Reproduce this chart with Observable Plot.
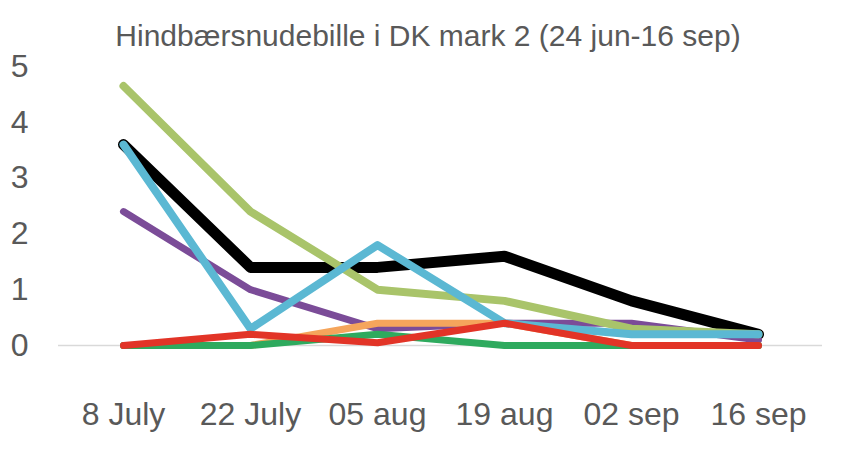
<!DOCTYPE html>
<html>
<head>
<meta charset="utf-8">
<script src="https://cdn.jsdelivr.net/npm/d3@7"></script>
<script src="https://cdn.jsdelivr.net/npm/@observablehq/plot@0.6"></script>
<style>
  html, body { margin: 0; padding: 0; background: #fff; }
  #wrap { position: relative; width: 858px; height: 450px; font-family: "Liberation Sans", Arial, sans-serif; }
  #title { position: absolute; left: 0; top: 21px; width: 856px; text-align: center; font-size: 30px; line-height: 1; color: #595959; white-space: nowrap; }
  #chart { position: absolute; left: 0; top: 0; }
</style>
</head>
<body>
<div id="wrap">
  <div id="chart"></div>
  <div id="title">Hindbærsnudebille i DK mark 2 (24 jun-16 sep)</div>
</div>
<script>
const dates = ["8 July", "22 July", "05 aug", "19 aug", "02 sep", "16 sep"];
const yTicks = [0, 1, 2, 3, 4, 5];

// series values, in drawing order
const seriesNames = ["black", "purple", "lightgreen", "orange", "darkgreen", "cyan", "red"];
const seriesColors = ["#000000", "#7B4C98", "#A9C46A", "#F5A55C", "#2EAA5E", "#5BB8D3", "#E23427"];
const seriesWidths = [11, 7, 8, 7, 7, 8, 7];
const blackValues = [3.6, 1.4, 1.4, 1.6, 0.8, 0.2];
const purpleValues = [2.4, 1.0, 0.3, 0.4, 0.4, 0.1];
const lightgreenValues = [4.65, 2.4, 1.0, 0.8, 0.3, 0.2];
const orangeValues = [0, 0, 0.4, 0.4, 0, 0];
const darkgreenValues = [0, 0, 0.2, 0, 0, 0];
const cyanValues = [3.6, 0.3, 1.8, 0.4, 0.2, 0.2];
const redValues = [0, 0.2, 0.05, 0.4, 0, 0];

const allValues = [blackValues, purpleValues, lightgreenValues, orangeValues, darkgreenValues, cyanValues, redValues];

const lineMarks = allValues.map((vals, i) =>
  Plot.line(vals.map((v, j) => ({date: dates[j], value: v})), {
    x: "date", y: "value",
    stroke: seriesColors[i], strokeWidth: seriesWidths[i],
    strokeLinecap: "round", strokeLinejoin: "round"
  })
);

const chart = Plot.plot({
  width: 858,
  height: 450,
  marginTop: 66,
  marginBottom: 105,
  marginLeft: 58,
  marginRight: 36,
  style: {fontFamily: '"Liberation Sans", Arial, sans-serif', background: "#fff", overflow: "visible"},
  x: {type: "point", domain: dates, padding: 0.5, axis: null},
  y: {domain: [0, 5], axis: null},
  marks: [
    Plot.ruleY([0], {stroke: "#D9D9D9", strokeWidth: 1.5}),
    Plot.axisY(yTicks, {tickSize: 0, tickPadding: 30, fontSize: 32, fill: "#595959", label: null, tickFormat: d => String(d)}),
    Plot.axisX(dates, {tickSize: 0, tickPadding: 57, fontSize: 32, fill: "#595959", label: null}),
    ...lineMarks
  ]
});
document.getElementById("chart").appendChild(chart);
</script>
</body>
</html>
